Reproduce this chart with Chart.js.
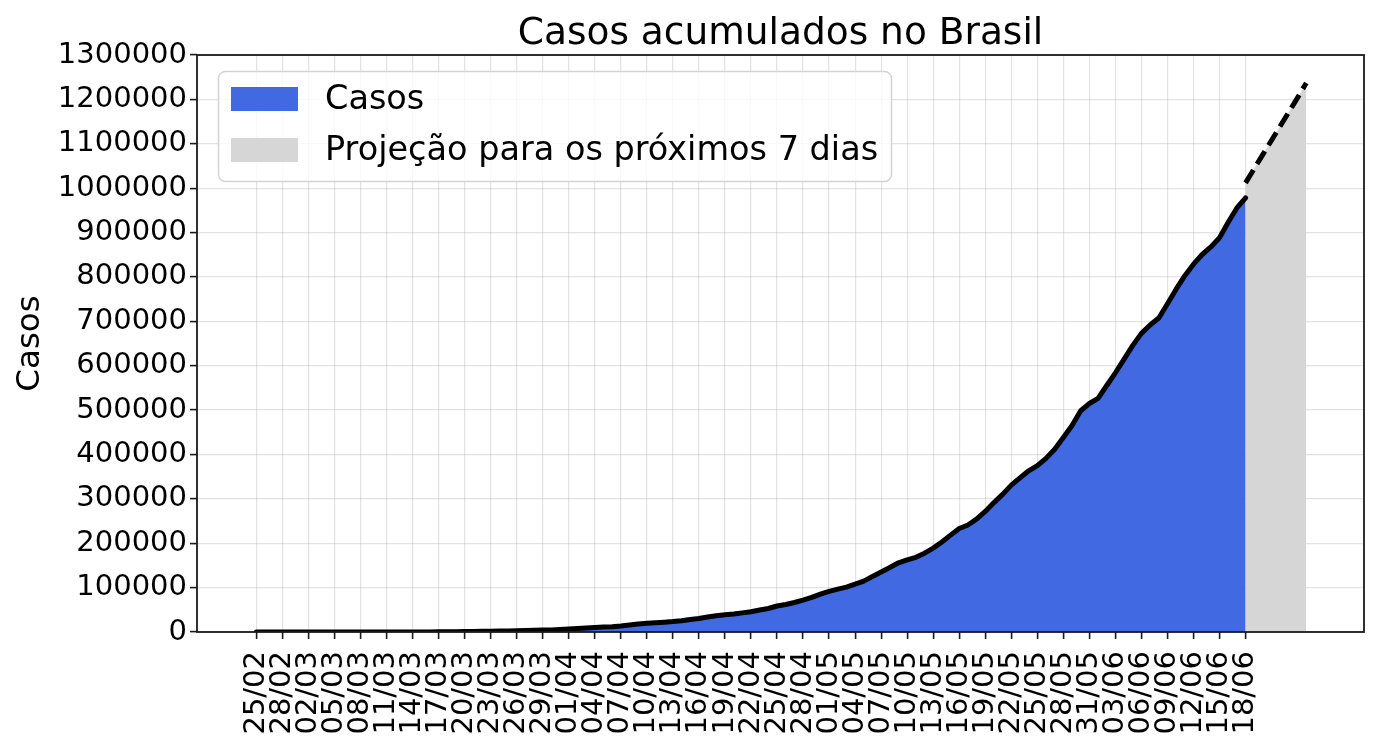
<!DOCTYPE html>
<html><head><meta charset="utf-8">
<script src="https://cdn.jsdelivr.net/npm/chart.js@4"></script>
<style>html,body{margin:0;padding:0;background:#fff}#wrap{width:1378px;height:746px;position:relative}</style>
</head><body><div id="wrap"><canvas id="c"></canvas></div>
<script>
const dates = [
'25/02','26/02','27/02','28/02','29/02',
'01/03','02/03','03/03','04/03','05/03','06/03','07/03','08/03','09/03','10/03','11/03','12/03','13/03','14/03','15/03','16/03','17/03','18/03','19/03','20/03','21/03','22/03','23/03','24/03','25/03','26/03','27/03','28/03','29/03','30/03','31/03',
'01/04','02/04','03/04','04/04','05/04','06/04','07/04','08/04','09/04','10/04','11/04','12/04','13/04','14/04','15/04','16/04','17/04','18/04','19/04','20/04','21/04','22/04','23/04','24/04','25/04','26/04','27/04','28/04','29/04','30/04',
'01/05','02/05','03/05','04/05','05/05','06/05','07/05','08/05','09/05','10/05','11/05','12/05','13/05','14/05','15/05','16/05','17/05','18/05','19/05','20/05','21/05','22/05','23/05','24/05','25/05','26/05','27/05','28/05','29/05','30/05','31/05',
'01/06','02/06','03/06','04/06','05/06','06/06','07/06','08/06','09/06','10/06','11/06','12/06','13/06','14/06','15/06','16/06','17/06','18/06'
];
const cases = [
0,1,1,1,2,
2,2,2,3,8,13,19,25,25,34,52,77,98,121,200,234,291,428,621,904,1128,1546,1891,2201,2433,2915,3417,3904,4256,4579,5717,
6836,7910,9056,10278,11130,12056,13717,15927,17857,19638,20727,22169,23430,25262,28320,30425,33682,36599,38654,40581,43079,45757,49492,52995,58509,61888,66501,71886,78162,85380,
91589,96559,101147,107780,114715,125218,135106,145328,155939,162699,168331,177589,188974,202918,218223,233142,241080,254220,271628,291579,310087,330890,347398,363211,374898,391222,411821,438238,465166,498440,514849,
526447,555383,584016,614941,645771,672846,691758,707412,739503,772416,802828,828810,850514,867624,888271,923189,955377,978142
];
const projectionDates = ['18/06','19/06','20/06','21/06','22/06','23/06','24/06','25/06'];
const projection = [1012000,1044000,1076000,1108000,1140000,1172000,1204000,1237000];
const yTicks = [0,100000,200000,300000,400000,500000,600000,700000,800000,900000,1000000,1100000,1200000,1300000];
const labelStep = 3;
const titleText = 'Casos acumulados no Brasil';
const legendItems = [
  {label: 'Casos', color: '#4169e1'},
  {label: 'Projeção para os próximos 7 dias', color: '#d6d6d6'}
];

const FONT = "'DejaVu Sans', sans-serif";
Chart.defaults.font.family = FONT;
Chart.defaults.color = '#000';

const casesPoints = cases.map((v, i) => ({x: i, y: v}));
const projStart = dates.indexOf(projectionDates[0]);
const projPoints = projection.map((v, i) => ({x: projStart + i, y: v}));
const gridColor = 'rgba(176,176,176,0.35)';

const framePlugin = {
  id: 'frameLegend',
  afterDraw(chart) {
    const {ctx, chartArea: a} = chart;
    ctx.save();
    ctx.strokeStyle = '#1a1a1a';
    ctx.lineWidth = 1.8;
    ctx.strokeRect(a.left, a.top, a.right - a.left, a.bottom - a.top);
    // title centred over the plot area
    ctx.font = '37.5px ' + FONT;
    ctx.fillStyle = '#000';
    ctx.textAlign = 'center';
    ctx.textBaseline = 'alphabetic';
    ctx.fillText(titleText, (a.left + a.right) / 2, 43.5);
    // legend
    const lx = 218.5, ly = 71.5, lw = 673, lh = 110, r = 7;
    ctx.beginPath();
    ctx.moveTo(lx + r, ly);
    ctx.arcTo(lx + lw, ly, lx + lw, ly + lh, r);
    ctx.arcTo(lx + lw, ly + lh, lx, ly + lh, r);
    ctx.arcTo(lx, ly + lh, lx, ly, r);
    ctx.arcTo(lx, ly, lx + lw, ly, r);
    ctx.closePath();
    ctx.fillStyle = 'rgba(255,255,255,0.8)';
    ctx.fill();
    ctx.strokeStyle = '#d3d3d3';
    ctx.lineWidth = 1.5;
    ctx.stroke();
    ctx.font = '33.5px ' + FONT;
    ctx.textBaseline = 'middle';
    ctx.textAlign = 'left';
    legendItems.forEach((it, i) => {
      const y = 87 + i * 51;
      ctx.fillStyle = it.color;
      ctx.fillRect(231, y, 67, 24);
      ctx.fillStyle = '#000';
      ctx.fillText(it.label, 325, y + 13);
    });
    ctx.restore();
  }
};

new Chart(document.getElementById('c'), {
  type: 'line',
  data: {
    datasets: [
      {
        label: legendItems[0].label,
        data: casesPoints,
        borderColor: '#000',
        borderWidth: 5,
        backgroundColor: legendItems[0].color,
        fill: 'origin',
        pointRadius: 0,
        tension: 0,
        borderJoinStyle: 'round',
        borderCapStyle: 'round'
      },
      {
        label: legendItems[1].label,
        data: projPoints,
        borderColor: '#000',
        borderWidth: 5,
        borderDash: [15, 7],
        backgroundColor: legendItems[1].color,
        fill: 'origin',
        pointRadius: 0,
        tension: 0
      }
    ]
  },
  options: {
    responsive: true,
    maintainAspectRatio: false,
    animation: false,
    layout: {padding: {top: 55, right: 14, bottom: 0, left: 0}},
    plugins: {
      legend: {display: false},
      tooltip: {enabled: false},
      title: {display: false}
    },
    scales: {
      x: {
        type: 'linear',
        min: -6.85,
        max: 127.65,
        z: 1,
        border: {display: false},
        grid: {color: gridColor, lineWidth: 1.2, tickColor: '#1a1a1a', tickWidth: 1.6, tickLength: 7},
        afterBuildTicks(scale) {
          scale.ticks = dates.map((d, i) => i).filter(i => i % labelStep === 0).map(v => ({value: v}));
        },
        afterFit(scale) { scale.height = 114; },
        ticks: {
          autoSkip: false,
          minRotation: 90,
          maxRotation: 90,
          padding: 12,
          font: {size: 29},
          color: '#000',
          callback: (v) => dates[v] ?? ''
        }
      },
      y: {
        min: 0,
        max: 1300000,
        z: 1,
        border: {display: false},
        grid: {color: gridColor, lineWidth: 1.2, tickColor: '#1a1a1a', tickWidth: 1.6, tickLength: 7},
        afterBuildTicks(scale) {
          scale.ticks = yTicks.map(v => ({value: v}));
        },
        afterFit(scale) { scale.width = 197; },
        title: {
          display: true,
          text: 'Casos',
          font: {size: 32.5},
          color: '#000',
          padding: {top: 11, bottom: 0}
        },
        ticks: {
          padding: 3,
          font: {size: 29},
          color: '#000',
          callback: (v) => String(v)
        }
      }
    }
  },
  plugins: [framePlugin]
});
</script>
</body></html>
